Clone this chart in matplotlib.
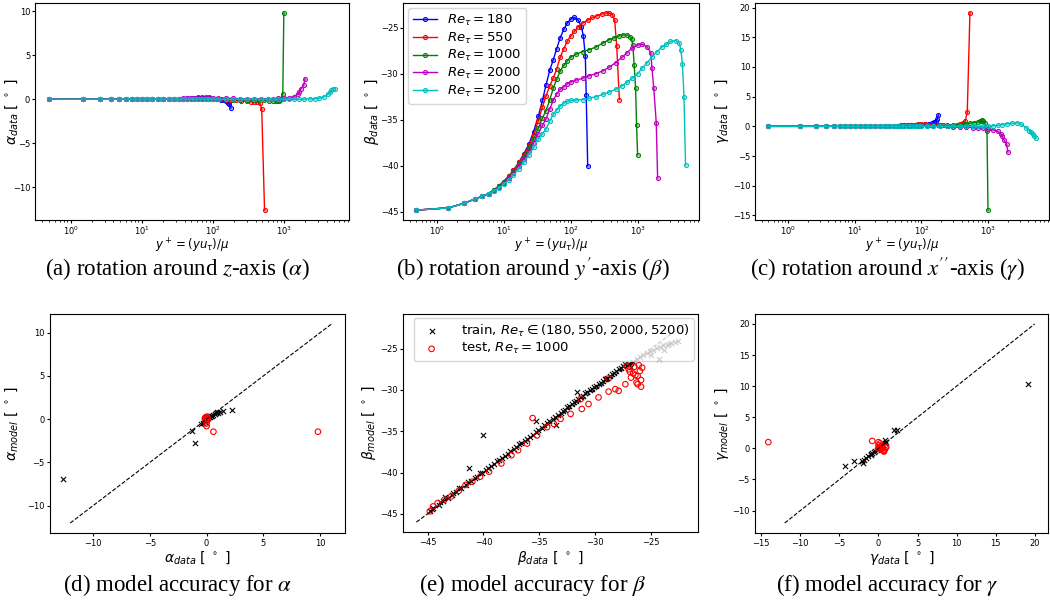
import matplotlib
matplotlib.use("Agg")
import matplotlib.pyplot as plt
from matplotlib.colors import to_rgba

plt.rcParams['mathtext.fontset'] = 'dejavusans'

# ---- wall-normal grid (shared near-wall part) ----
yp_wall = [0.5, 1.5, 2.6, 3.7, 4.8, 6.0, 7.2, 8.5, 10, 12, 14, 17, 20, 24, 28,
           33, 38, 43, 49, 55, 62, 70, 79, 89, 100]

yplus_180 = yp_wall + [114, 130, 145, 155, 166, 171, 180]
yplus_550 = yp_wall + [114, 130, 151, 180, 212, 250, 299, 340, 375, 420, 455, 488, 535]
yplus_1000 = yp_wall + [120, 151, 190, 238, 300, 375, 450, 528, 610, 702, 770, 813,
                        850, 890, 933, 966, 1000]
yplus_2000 = yp_wall + [120, 151, 190, 238, 300, 375, 470, 590, 700, 830, 1000, 1170,
                        1390, 1570, 1640, 1740, 1900, 1990]
yplus_5200 = yp_wall + [120, 151, 190, 238, 300, 375, 470, 590, 700, 830, 1000, 1170,
                        1390, 1640, 1950, 2300, 2700, 3100, 3720, 4200, 4420, 4670,
                        4930, 5200]

# ---- beta (rotation around y') ----
beta_180 = [-44.8, -44.55, -44.05, -43.6, -43.3, -43.0, -42.6, -42.2, -41.7, -41.1,
            -40.5, -39.6, -38.7, -37.6, -36.3, -34.6, -32.9, -31.2, -29.6, -28.5,
            -27.3, -26.1, -25.2, -24.5, -24.1,
            -23.9, -24.2, -24.9, -25.9, -28.1, -32.3, -40.0]
beta_550 = [-44.8, -44.55, -44.05, -43.6, -43.3, -43.0, -42.6, -42.2, -41.7, -41.1,
            -40.5, -39.6, -38.8, -37.8, -36.6, -35.1, -33.6, -32.4, -31.3, -30.5,
            -29.5, -28.2, -27.3, -26.5, -25.9,
            -25.4, -24.9, -24.5, -24.2, -23.9, -23.7, -23.5, -23.4, -23.4, -23.6,
            -24.2, -27.0, -32.8]
beta_1000 = [-44.8, -44.55, -44.05, -43.6, -43.3, -43.0, -42.6, -42.2, -41.8, -41.2,
             -40.6, -39.8, -39.0, -38.1, -37.1, -35.9, -34.8, -34.0, -32.8, -31.6,
             -30.6, -29.7, -29.1, -28.6, -28.2,
             -27.9, -27.6, -27.4, -27.1, -26.7, -26.3, -26.1, -25.9, -25.8, -25.8,
             -26.0, -26.2, -26.9, -29.1, -31.5, -35.6, -38.8]
beta_2000 = [-44.8, -44.55, -44.05, -43.6, -43.3, -43.0, -42.7, -42.3, -41.9, -41.3,
             -40.8, -40.0, -39.3, -38.4, -37.5, -36.5, -35.6, -34.9, -33.8, -32.9,
             -32.2, -31.7, -31.4, -31.1, -30.9,
             -30.7, -30.5, -30.2, -30.0, -29.7, -29.3, -28.8, -28.2, -27.7, -27.2,
             -26.9, -26.8, -27.1, -27.7, -29.4, -31.5, -35.3, -41.3]
beta_5200 = [-44.8, -44.55, -44.05, -43.6, -43.3, -43.0, -42.7, -42.4, -42.0, -41.5,
             -41.0, -40.3, -39.6, -38.8, -38.0, -37.1, -36.5, -36.0, -35.1, -34.4,
             -33.9, -33.5, -33.2, -33.0, -32.9,
             -32.85, -32.8, -32.65, -32.5, -32.25, -32.0, -31.7, -31.3, -30.9, -30.5,
             -30.0, -29.4, -28.8, -28.2, -27.6, -27.1, -26.8, -26.5, -26.4, -26.7,
             -27.4, -28.9, -32.5, -39.9]

# ---- alpha (rotation around z) ----
alpha_180 = [0.0, 0.0, 0.0, 0.0, 0.0, 0.0, 0.0, 0.0, 0.0, 0.0, 0.0, 0.0, 0.0, 0.0, 0.0,
             0.05, 0.05, 0.1, 0.1, 0.1, 0.15, 0.15, 0.1, 0.1, 0.05,
             0.0, -0.05, -0.1, -0.2, -0.4, -0.6, -1.0]
alpha_550 = [0.0, 0.0, 0.0, 0.0, 0.0, 0.0, 0.0, 0.0, 0.0, 0.0, 0.0, 0.0, 0.0, 0.0, 0.0,
             0.0, 0.0, 0.05, 0.05, 0.05, 0.05, 0.05, 0.05, 0.05, 0.05,
             0.05, 0.0, -0.05, -0.1, -0.15, -0.2, -0.25, -0.3, -0.3, -0.35, -0.4,
             -1.1, -12.6]
alpha_1000 = [0.0, 0.0, 0.0, 0.0, 0.0, 0.0, 0.0, 0.0, 0.0, 0.0, 0.0, 0.0, 0.0, 0.0, 0.0,
              0.0, 0.0, 0.0, 0.0, 0.0, 0.0, 0.0, 0.0, 0.0, 0.0,
              0.0, 0.0, -0.05, -0.05, -0.1, -0.1, -0.15, -0.15, -0.2, -0.2, -0.25,
              -0.25, -0.2, -0.1, 0.1, 0.6, 9.8]
alpha_2000 = [0.0, 0.0, 0.0, 0.0, 0.0, 0.0, 0.0, 0.0, 0.0, 0.0, 0.0, 0.0, 0.0, 0.0, 0.05,
              0.05, 0.1, 0.1, 0.15, 0.15, 0.2, 0.2, 0.2, 0.2, 0.15,
              0.15, 0.1, 0.1, 0.05, 0.05, 0.05, 0.05, 0.05, 0.05, 0.1, 0.1, 0.15,
              0.3, 0.6, 0.8, 1.2, 1.6, 2.3]
alpha_5200 = [0.0, 0.0, 0.0, 0.0, 0.0, 0.0, 0.0, 0.0, 0.0, 0.0, 0.0, 0.0, 0.0, 0.0, 0.0,
              0.0, 0.0, 0.0, 0.0, 0.0, 0.0, 0.0, 0.0, 0.0, 0.0,
              0.0, 0.0, 0.0, 0.0, 0.0, 0.0, 0.0, 0.0, 0.0, 0.0, 0.0, 0.0, 0.0, 0.0,
              0.0, 0.05, 0.05, 0.1, 0.3, 0.6, 0.85, 1.0, 1.15, 1.2]

# ---- gamma (rotation around x'') ----
gamma_180 = [0.0, 0.0, 0.0, 0.0, 0.0, 0.0, 0.0, 0.0, 0.0, 0.0, 0.0, 0.0, 0.0, 0.0, 0.0,
             0.0, 0.05, 0.1, 0.1, 0.15, 0.2, 0.2, 0.25, 0.3, 0.3,
             0.35, 0.4, 0.5, 0.7, 0.9, 1.2, 1.9]
gamma_550 = [0.0, 0.0, 0.0, 0.0, 0.0, 0.0, 0.0, 0.0, 0.0, 0.0, 0.0, 0.0, 0.0, 0.0, 0.05,
             0.05, 0.1, 0.1, 0.15, 0.2, 0.25, 0.3, 0.3, 0.35, 0.35,
             0.35, 0.3, 0.25, 0.2, 0.15, 0.1, 0.1, 0.2, 0.4, 0.6, 0.9, 2.4, 19.1]
gamma_1000 = [0.0, 0.0, 0.0, 0.0, 0.0, 0.0, 0.0, 0.0, 0.0, 0.0, 0.0, 0.0, 0.0, 0.0, 0.0,
              0.0, 0.0, 0.05, 0.05, 0.05, 0.1, 0.1, 0.1, 0.1, 0.1,
              0.1, 0.1, 0.15, 0.2, 0.25, 0.3, 0.4, 0.5, 0.6, 0.75, 0.9, 1.0, 0.9,
              0.5, -0.1, -0.8, -14.1]
gamma_2000 = [0.0, 0.0, 0.0, 0.0, 0.0, 0.0, 0.0, 0.0, 0.0, 0.0, 0.0, 0.0, 0.0, 0.0, 0.05,
              0.05, 0.1, 0.1, 0.15, 0.2, 0.25, 0.3, 0.3, 0.3, 0.25,
              0.2, 0.1, 0.05, 0.0, -0.05, -0.1, -0.15, -0.2, -0.25, -0.3, -0.4, -0.55,
              -0.8, -1.3, -1.6, -2.3, -3.0, -4.3]
gamma_5200 = [0.0, 0.0, 0.0, 0.0, 0.0, 0.0, 0.0, 0.0, 0.0, 0.0, 0.0, 0.0, 0.0, 0.0, 0.0,
              0.0, 0.0, 0.0, 0.0, 0.0, 0.0, 0.0, 0.0, 0.0, 0.0,
              0.0, 0.0, 0.0, 0.0, 0.0, 0.0, 0.0, 0.0, 0.0, 0.0, 0.05, 0.1, 0.15,
              0.3, 0.45, 0.5, 0.6, 0.4, -0.2, -0.7, -1.0, -1.3, -1.6, -2.0]

re_labels = ['180', '550', '1000', '2000', '5200']
re_colors = ['b', 'r', 'g', 'm', 'c']
yplus_all = [yplus_180, yplus_550, yplus_1000, yplus_2000, yplus_5200]
alpha_all = [alpha_180, alpha_550, alpha_1000, alpha_2000, alpha_5200]
beta_all = [beta_180, beta_550, beta_1000, beta_2000, beta_5200]
gamma_all = [gamma_180, gamma_550, gamma_1000, gamma_2000, gamma_5200]

# ---- model vs data scatter ----
train_alpha_x = [-12.6, -1.0, -1.25, 2.25, 1.45, 1.2, 1.0, 0.85, 0.7, 0.55, 0.4, 0.3,
                 0.2, 0.1, 0.0, -0.1, -0.2, -0.35, -0.45, -0.15, 0.05, 0.5, 0.95]
train_alpha_y = [-6.9, -2.7, -1.4, 1.1, 0.9, 0.85, 0.75, 0.7, 0.6, 0.5, 0.4, 0.3,
                 0.2, 0.1, 0.0, -0.1, -0.2, -0.45, -0.6, -0.3, 0.05, 0.35, 0.8]
test_alpha_x = [9.8, 0.6, 0.0, -0.1, 0.05, 0.0, -0.05, 0.1, -0.15, 0.0, 0.05, -0.1]
test_alpha_y = [-1.45, -1.45, -0.8, 0.0, 0.1, 0.2, -0.2, 0.0, 0.1, -0.5, 0.3, 0.2]

train_beta_x = [-44.8, -44.5, -44.0, -43.6, -43.2, -42.8, -42.5, -42.0, -41.6, -41.1,
                -40.6, -40.1, -39.6, -39.1, -38.6, -38.1, -37.6, -37.1, -36.6, -36.1,
                -35.6, -35.1, -34.6, -34.1, -33.6, -33.1, -32.7, -32.3, -31.9, -31.5,
                -31.1, -30.7, -30.3, -29.9, -29.5, -29.1, -28.7, -28.3, -27.9, -27.5,
                -27.1,
                -44.6, -43.9, -43.4, -42.7, -42.2, -41.4, -40.8, -40.3, -39.8, -39.3,
                -38.8, -38.3, -37.8, -37.3, -36.8, -36.3, -35.8, -35.3, -34.8, -34.3,
                -33.8, -33.3, -32.9, -32.5, -32.1, -31.7, -31.3, -30.9, -30.5, -30.1,
                -29.7, -29.3, -28.9, -28.5, -28.1, -27.7, -27.3,
                -40.0, -41.3, -35.3, -31.6, -33.5, -29.0,
                -27.0, -26.6, -26.3, -26.0, -25.7, -25.4, -25.1, -24.8, -24.5, -24.2,
                -23.9, -23.6, -23.4, -23.2, -22.9, -22.6, -24.3, -25.0, -23.8, -26.8]
train_beta_y = [-44.7, -44.3, -43.9, -43.4, -43.1, -42.7, -42.4, -41.9, -41.5, -41.0,
                -40.5, -40.0, -39.5, -39.0, -38.5, -38.0, -37.4, -36.9, -36.4, -35.9,
                -35.4, -34.9, -34.3, -33.8, -33.3, -32.8, -32.4, -32.0, -31.5, -31.1,
                -30.7, -30.3, -29.9, -29.5, -29.1, -28.7, -28.3, -27.9, -27.5, -27.1,
                -26.8,
                -44.4, -43.6, -43.0, -42.5, -41.9, -41.2, -40.7, -40.1, -39.7, -39.2,
                -38.6, -38.2, -37.7, -37.1, -36.6, -36.2, -35.7, -35.1, -34.6, -34.0,
                -33.5, -33.0, -32.5, -32.1, -31.7, -31.3, -30.8, -30.4, -30.0, -29.7,
                -29.3, -28.9, -28.5, -28.1, -27.7, -27.3, -26.9,
                -35.5, -39.4, -33.7, -30.2, -34.3, -28.7,
                -26.8, -26.6, -26.2, -26.0, -25.8, -25.5, -25.3, -25.1, -24.9, -24.8,
                -24.6, -24.5, -24.4, -24.3, -24.2, -24.1, -26.3, -25.8, -25.1, -27.2]
test_beta_x = [-44.8, -44.5, -44.1, -43.5, -42.9, -42.2, -41.6, -41.0, -40.3, -39.5,
               -38.4, -37.5, -36.9, -36.1, -35.6, -35.2, -34.3, -33.7, -33.1, -32.2,
               -31.3, -31.2, -30.6, -29.7, -28.8, -28.8, -28.2, -27.9, -27.3, -26.8,
               -26.3, -26.2, -26.0, -25.8, -26.5, -27.0, -26.6, -26.1, -26.9, -27.2,
               -25.9, -26.4, -25.9, -26.2]
test_beta_y = [-44.7, -44.1, -43.7, -43.3, -42.9, -42.2, -41.5, -41.1, -40.5, -39.9,
               -38.9, -37.9, -37.3, -36.5, -33.4, -35.5, -34.5, -34.1, -33.5, -32.9,
               -31.1, -32.3, -31.7, -30.9, -30.2, -28.6, -29.9, -30.1, -29.3, -28.5,
               -29.1, -28.3, -27.7, -27.3, -27.2, -27.5, -28.0, -27.0, -27.8, -27.1,
               -28.8, -28.2, -29.6, -29.3]

train_gamma_x = [19.1, -4.3, -3.1, -2.1, -2.0, -1.6, -1.3, -1.0, -0.8, -0.6, -0.4, -0.2,
                 0.0, 0.2, 0.4, 0.6, 0.8, 0.9, 1.0, 2.0, 2.4, 0.5, -1.8, -0.9]
train_gamma_y = [10.4, -2.8, -2.0, -2.0, -2.4, -1.6, -1.2, -0.9, -0.8, -0.6, -0.5, -0.3,
                 -0.1, 0.1, 0.3, 0.5, 0.8, 1.3, 1.1, 3.0, 2.9, 0.6, -1.9, -1.1]
test_gamma_x = [-14.1, -0.8, 0.0, 0.0, 0.1, 0.2, 0.3, 0.5, 0.6, 0.7, 0.8, 0.9, 0.4, 0.2,
                0.0, 0.7, 1.0, 0.3]
test_gamma_y = [1.0, 1.2, 1.0, 0.5, 0.2, 0.0, -0.2, 0.1, -0.3, -0.5, -0.2, 0.1, 0.4, 0.8,
                0.0, -0.4, 0.2, -0.1]

ident_alpha = [-12, 11]
ident_beta = [-46, -22]
ident_gamma = [-12, 20]

W, H = 1050, 603
fig = plt.figure(figsize=(W / 100, H / 100), dpi=100)

def px_axes(box):
    x0, y0, x1, y1 = box
    return fig.add_axes([x0 / W, 1 - y1 / H, (x1 - x0) / W, (y1 - y0) / H])

def place_labels(ax, box, ylab_right, xlab_top):
    # put axis labels at pixel spots
    x0, y0, x1, y1 = box
    ax.yaxis.set_label_coords((ylab_right - x0) / (x1 - x0), 0.5)
    ax.xaxis.set_label_coords(0.5, (y1 - xlab_top) / (y1 - y0))

tick_fs = 6
lab_fs = 10
deg = r' [ $^\circ$ ]'

top_boxes = [(35, 3, 349, 220), (403, 3, 699, 220), (755, 3, 1049, 220)]
top_ylab_x = [20, 381, 731]
top_axes = [px_axes(b) for b in top_boxes]
top_data = [alpha_all, beta_all, gamma_all]
top_ylabels = [r'$\alpha_{data}$' + deg, r'$\beta_{data}$' + deg, r'$\gamma_{data}$' + deg]

for ax, box, yl_x, vals, ylab in zip(top_axes, top_boxes, top_ylab_x, top_data, top_ylabels):
    for yp, v, c, lab in zip(yplus_all, vals, re_colors, re_labels):
        ax.plot(yp, v, '-o', color=c, lw=1, ms=3, mec=c, mew=0.7,
                mfc=to_rgba(c, 0.35), label=r'$Re_\tau = %s$' % lab)
    ax.set_xscale('log')
    ax.set_xlabel(r'$y^+ = (yu_\tau)/\mu$', fontsize=8.5)
    ax.set_ylabel(ylab, fontsize=lab_fs)
    ax.tick_params(labelsize=tick_fs, length=2.5, pad=1)
    ax.tick_params(which='minor', length=1.5)
    place_labels(ax, box, yl_x, 237)

top_axes[0].set_yticks([-10, -5, 0, 5, 10])
top_axes[1].set_yticks([-45, -40, -35, -30, -25])
top_axes[2].set_yticks([-15, -10, -5, 0, 5, 10, 15, 20])
top_axes[1].legend(loc='upper left', fontsize=9.5, handlelength=1.8, labelspacing=0.2,
                   borderpad=0.35, borderaxespad=0.4, handletextpad=0.8)

bot_boxes = [(50, 314, 345, 533), (403, 314, 698, 532), (755, 314, 1048, 533)]
bot_ylab_x = [20, 378, 731]
bot_axes = [px_axes(b) for b in bot_boxes]
bot_sets = [
    (train_alpha_x, train_alpha_y, test_alpha_x, test_alpha_y, ident_alpha, r'\alpha'),
    (train_beta_x, train_beta_y, test_beta_x, test_beta_y, ident_beta, r'\beta'),
    (train_gamma_x, train_gamma_y, test_gamma_x, test_gamma_y, ident_gamma, r'\gamma'),
]
for ax, box, yl_x, (tx, ty, sx, sy, ident, sym) in zip(bot_axes, bot_boxes, bot_ylab_x, bot_sets):
    ax.plot(ident, ident, 'k--', lw=0.8)
    ax.scatter(tx, ty, marker='x', color='k', s=14, lw=0.8,
               label=r'train, $Re_\tau \in (180, 550, 2000, 5200)$')
    ax.scatter(sx, sy, marker='o', facecolors='none', edgecolors='r', s=16, lw=0.8,
               label=r'test, $Re_\tau = 1000$')
    ax.set_xlabel(r'$%s_{data}$' % sym + deg, fontsize=lab_fs)
    ax.set_ylabel(r'$%s_{model}$' % sym + deg, fontsize=lab_fs)
    ax.tick_params(labelsize=tick_fs, length=2.5, pad=1.5)
    place_labels(ax, box, yl_x, 549)

bot_axes[1].legend(loc='upper right', fontsize=9.5, handletextpad=1.2, labelspacing=0.2,
                   borderpad=0.35, borderaxespad=0.3)

captions_top = [r'(a) rotation around $z$-axis ($\alpha$)',
                r"(b) rotation around $y'$-axis ($\beta$)",
                r"(c) rotation around $x''$-axis ($\gamma$)"]
captions_bot = [r'(d) model accuracy for $\alpha$',
                r'(e) model accuracy for $\beta$',
                r'(f) model accuracy for $\gamma$']
cap_x = [178, 533, 887]
cap_kw = dict(ha='center', va='center', fontsize=16.5, family='Liberation Serif',
              math_fontfamily='stix')
for cx, t in zip(cap_x, captions_top):
    fig.text(cx / W, 1 - 269 / H, t, **cap_kw)
for cx, t in zip(cap_x, captions_bot):
    fig.text(cx / W, 1 - 585 / H, t, **cap_kw)

fig.savefig('out.png', dpi=100)
